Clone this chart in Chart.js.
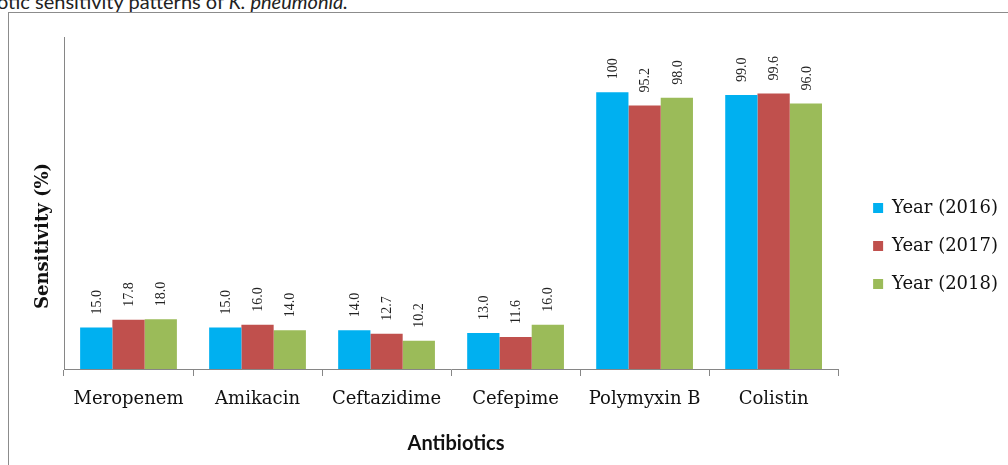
<!DOCTYPE html>
<html>
<head>
<meta charset="utf-8">
<title>Antibiotic sensitivity patterns of K. pneumonia</title>
<script src="https://cdn.jsdelivr.net/npm/chart.js@4.4.1/dist/chart.umd.min.js"></script>
<style>
  html, body { margin: 0; padding: 0; background: #fff; overflow: hidden; }
  body { width: 1008px; height: 465px; position: relative; }
  .caption { position: absolute; right: 660px; top: -11px; font: 20px Lato, sans-serif; color: #222; white-space: nowrap; }
  .frame { position: absolute; left: 8px; top: 12px; width: 1100px; height: 600px; border: 1px solid #8c8c8c; }
  #chart { position: absolute; left: 0; top: 0; }
</style>
</head>
<body>
<div class="caption">Antibiotic sensitivity patterns of <i>K. pneumonia.</i></div>
<div class="frame"></div>
<canvas id="chart" width="1008" height="465"></canvas>
<script>
var antibiotics = ['Meropenem', 'Amikacin', 'Ceftazidime', 'Cefepime', 'Polymyxin B', 'Colistin'];
var year2016 = [15.0, 15.0, 14.0, 13.0, 100, 99.0];
var year2017 = [17.8, 16.0, 12.7, 11.6, 95.2, 99.6];
var year2018 = [18.0, 14.0, 10.2, 16.0, 98.0, 96.0];
var seriesNames = ['Year (2016)', 'Year (2017)', 'Year (2018)'];
var seriesColors = ['#00B0F0', '#C0504D', '#9BBB59'];

var axisGray = '#868686';

// value labels above bars + both axis titles
var extrasPlugin = {
    id: 'extras',
    afterDatasetsDraw: function(chart) {
        var ctx = chart.ctx;
        var area = chart.chartArea;
        ctx.save();
        ctx.fillStyle = '#222';
        ctx.font = '14px "Liberation Serif"';
        ctx.textAlign = 'left';
        ctx.textBaseline = 'middle';
        chart.data.datasets.forEach(function(ds, i) {
            chart.getDatasetMeta(i).data.forEach(function(bar, j) {
                ctx.save();
                ctx.translate(bar.x + 1, bar.y - 13);
                ctx.rotate(-Math.PI / 2);
                ctx.fillText(ds.data[j].toPrecision(3), 0, 0);
                ctx.restore();
            });
        });

        ctx.fillStyle = '#111';
        ctx.textAlign = 'center';
        ctx.font = 'bold 18px "DejaVu Serif"';
        ctx.save();
        ctx.translate(area.left - 21, (area.top + area.bottom) / 2 + 33);
        ctx.rotate(-Math.PI / 2);
        ctx.fillText('Sensitivity (%)', 0, 0);
        ctx.restore();

        ctx.font = 'bold 20px Lato';
        ctx.fillText('Antibiotics', (area.left + area.right) / 2 + 5, 444);
        ctx.restore();
    }
};

var ctx = document.getElementById('chart').getContext('2d');

var chart = new Chart(ctx, {
    type: 'bar',
    data: {
        labels: antibiotics,
        datasets: [
            { label: seriesNames[0], data: year2016, backgroundColor: seriesColors[0] },
            { label: seriesNames[1], data: year2017, backgroundColor: seriesColors[1] },
            { label: seriesNames[2], data: year2018, backgroundColor: seriesColors[2] }
        ]
    },
    options: {
        responsive: false,
        animation: false,
        devicePixelRatio: 1,
        categoryPercentage: 0.75,
        barPercentage: 1,
        layout: {
            padding: { left: 64, top: 37, right: 0, bottom: 10 }
        },
        plugins: {
            tooltip: { enabled: false },
            legend: {
                position: 'right',
                labels: {
                    boxWidth: 10,
                    boxHeight: 10,
                    padding: 20,
                    color: '#111',
                    font: { family: '"DejaVu Serif"', size: 18 }
                }
            }
        },
        scales: {
            x: {
                grid: {
                    display: true,
                    drawOnChartArea: false,
                    drawTicks: true,
                    tickLength: 7,
                    color: axisGray
                },
                border: { display: true, color: axisGray, width: 1 },
                ticks: {
                    color: '#111',
                    padding: 13,
                    font: { family: '"DejaVu Serif"', size: 18 }
                },
                afterFit: function(scale) { scale.height = 86; }
            },
            y: {
                min: 0,
                max: 120,
                grid: { display: false },
                border: { display: true, color: axisGray, width: 1 },
                ticks: { display: false },
                afterFit: function(scale) { scale.width = 0; }
            },
            gap: {
                type: 'linear',
                position: 'right',
                display: true,
                grid: { display: false },
                border: { display: false },
                ticks: { display: false },
                afterFit: function(scale) { scale.width = 15; }
            }
        }
    },
    plugins: [extrasPlugin]
});
</script>
</body>
</html>
